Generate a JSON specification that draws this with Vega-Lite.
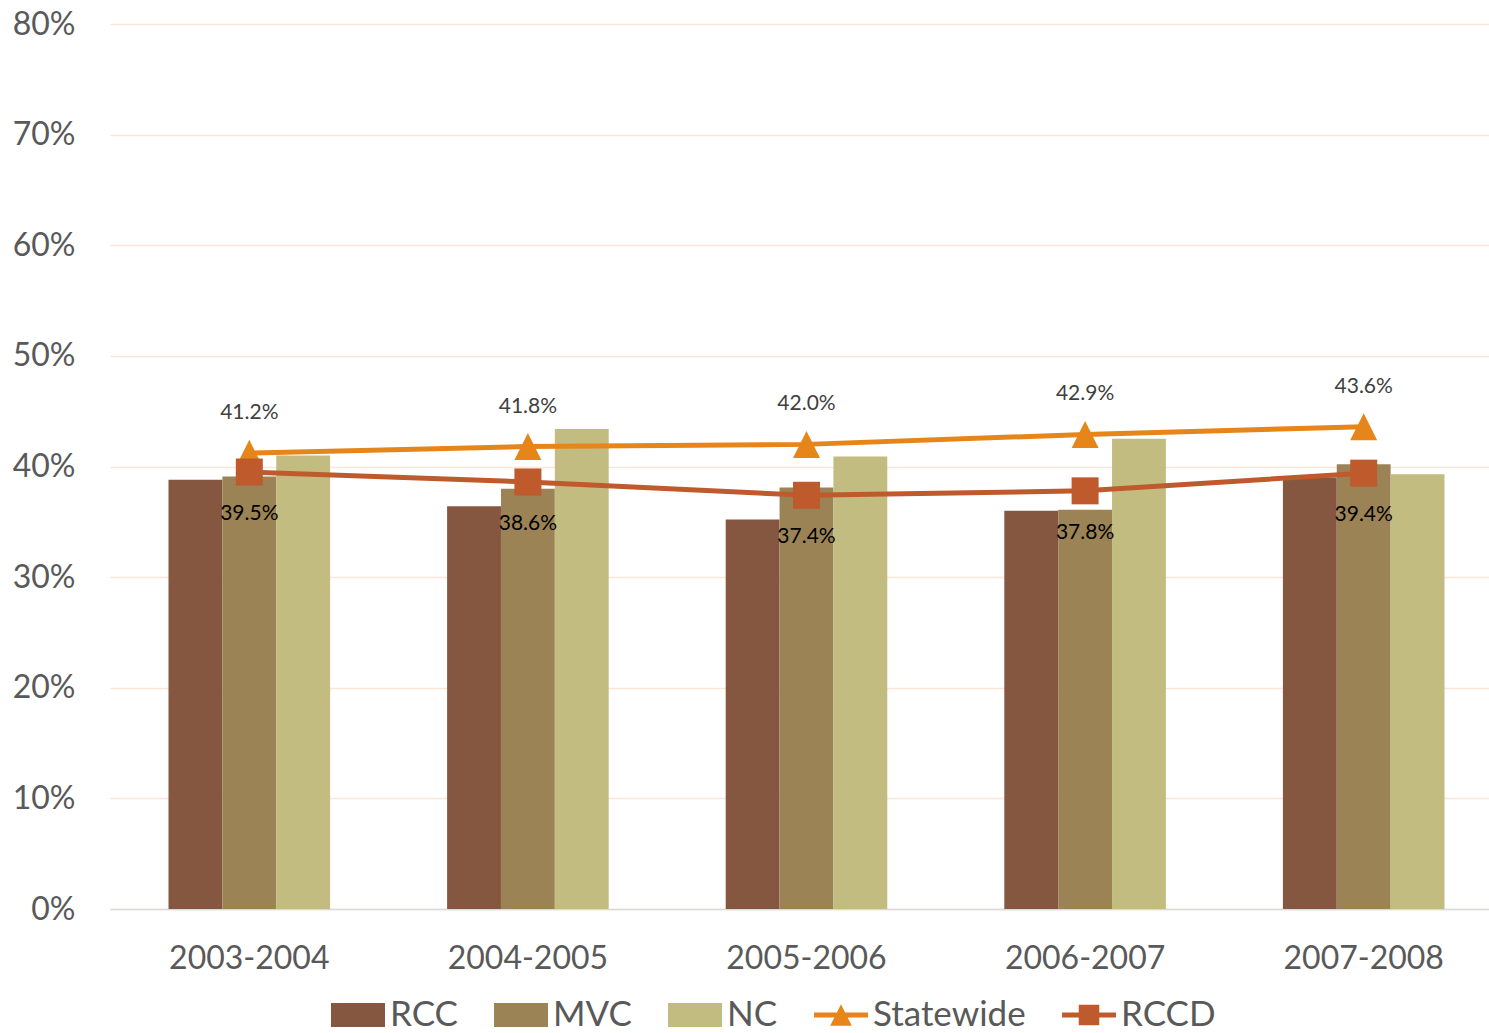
{
  "$schema": "https://vega.github.io/schema/vega-lite/v6.json",
  "width": 1379,
  "height": 885,
  "autosize": {"type": "none"},
  "padding": {"left": 110, "top": 24, "right": 0, "bottom": 124},
  "background": "white",
  "config": {
    "view": {"stroke": null},
    "font": "Lato",
    "axis": {"labelFont": "Lato", "labelColor": "#595959"}
  },
  "data": {
    "values": [
      {"year": "2003-2004", "series": "RCC", "value": 0.388},
      {"year": "2003-2004", "series": "MVC", "value": 0.391},
      {"year": "2003-2004", "series": "NC", "value": 0.410},
      {"year": "2003-2004", "series": "Statewide", "value": 0.412},
      {"year": "2003-2004", "series": "RCCD", "value": 0.395},
      {"year": "2004-2005", "series": "RCC", "value": 0.364},
      {"year": "2004-2005", "series": "MVC", "value": 0.380},
      {"year": "2004-2005", "series": "NC", "value": 0.434},
      {"year": "2004-2005", "series": "Statewide", "value": 0.418},
      {"year": "2004-2005", "series": "RCCD", "value": 0.386},
      {"year": "2005-2006", "series": "RCC", "value": 0.352},
      {"year": "2005-2006", "series": "MVC", "value": 0.381},
      {"year": "2005-2006", "series": "NC", "value": 0.409},
      {"year": "2005-2006", "series": "Statewide", "value": 0.420},
      {"year": "2005-2006", "series": "RCCD", "value": 0.374},
      {"year": "2006-2007", "series": "RCC", "value": 0.360},
      {"year": "2006-2007", "series": "MVC", "value": 0.361},
      {"year": "2006-2007", "series": "NC", "value": 0.425},
      {"year": "2006-2007", "series": "Statewide", "value": 0.429},
      {"year": "2006-2007", "series": "RCCD", "value": 0.378},
      {"year": "2007-2008", "series": "RCC", "value": 0.390},
      {"year": "2007-2008", "series": "MVC", "value": 0.402},
      {"year": "2007-2008", "series": "NC", "value": 0.393},
      {"year": "2007-2008", "series": "Statewide", "value": 0.436},
      {"year": "2007-2008", "series": "RCCD", "value": 0.394}
    ]
  },
  "encoding": {
    "x": {
      "field": "year", "type": "nominal",
      "scale": {"range": [0, 1393], "paddingInner": 0.42, "paddingOuter": 0.21},
      "axis": {
        "title": null, "labelAngle": 0, "labelFontSize": 32, "labelPadding": 34,
        "ticks": false, "tickSize": 0, "domainColor": "#D9D9D9", "domainWidth": 1.5, "grid": false
      }
    },
    "y": {
      "field": "value", "type": "quantitative",
      "scale": {"domain": [0, 0.8], "nice": false},
      "axis": {
        "title": null, "format": ".0%", "values": [0, 0.1, 0.2, 0.3, 0.4, 0.5, 0.6, 0.7, 0.8],
        "labelFontSize": 32, "labelPadding": 35, "ticks": false, "tickSize": 0, "domain": false,
        "gridColor": "#FCE6D6", "gridWidth": 1.5
      }
    }
  },
  "layer": [
    {
      "transform": [{"filter": {"field": "series", "oneOf": ["RCC", "MVC", "NC"]}}],
      "mark": {"type": "bar"},
      "encoding": {
        "xOffset": {"field": "series", "type": "nominal", "scale": {"domain": ["RCC", "MVC", "NC"], "paddingInner": 0, "paddingOuter": 0}},
        "color": {
          "field": "series", "type": "nominal",
          "scale": {
            "domain": ["RCC", "MVC", "NC", "Statewide", "RCCD"],
            "range": ["#855640", "#9C8356", "#C3BC80", "#E6861A", "#BE5A2C"]
          },
          "legend": {
            "title": null, "orient": "none", "direction": "horizontal",
            "legendX": 221, "legendY": 964,
            "labelFontSize": 35, "labelFont": "Lato", "labelColor": "#595959", "labelLimit": 400,
            "labelOffset": 5, "columnPadding": 36, "symbolSize": 2916,
            "symbolStrokeWidth": 0, "symbolOpacity": 1
          }
        }
      }
    },
    {
      "transform": [{"filter": {"field": "series", "oneOf": ["Statewide", "RCCD"]}}],
      "mark": {"type": "line", "strokeWidth": 5},
      "encoding": {
        "color": {"field": "series", "type": "nominal", "legend": null}
      }
    },
    {
      "transform": [{"filter": {"field": "series", "equal": "Statewide"}}],
      "mark": {"type": "point", "filled": true, "opacity": 1, "size": 729, "shape": "M0,-1L1,1H-1Z"},
      "encoding": {
        "color": {"field": "series", "type": "nominal", "legend": null}
      }
    },
    {
      "transform": [{"filter": {"field": "series", "equal": "RCCD"}}],
      "mark": {"type": "point", "filled": true, "opacity": 1, "size": 729, "shape": "square"},
      "encoding": {
        "color": {"field": "series", "type": "nominal", "legend": null}
      }
    },
    {
      "transform": [{"filter": "false"}],
      "mark": {"type": "point", "filled": true, "opacity": 1, "size": 2916},
      "encoding": {
        "color": {"field": "series", "type": "nominal", "legend": null},
        "shape": {
          "field": "series", "type": "nominal",
          "scale": {
            "domain": ["RCC", "MVC", "NC", "Statewide", "RCCD"],
            "range": [
              "M-1,-0.44H1V0.44H-1Z",
              "M-1,-0.44H1V0.44H-1Z",
              "M-1,-0.44H1V0.44H-1Z",
              "M-1,-0.09H1V0.09H-1Z M0,-0.4L0.4,0.4H-0.4Z",
              "M-1,-0.09H1V0.09H-1Z M-0.38,-0.38H0.38V0.38H-0.38Z"
            ]
          },
          "legend": {
            "title": null, "orient": "none", "direction": "horizontal",
            "legendX": 221, "legendY": 964,
            "labelFontSize": 35, "labelFont": "Lato", "labelColor": "#595959", "labelLimit": 400,
            "labelOffset": 5, "columnPadding": 36, "symbolSize": 2916,
            "symbolStrokeWidth": 0, "symbolOpacity": 1
          }
        }
      }
    },
    {
      "transform": [{"filter": {"field": "series", "equal": "Statewide"}}],
      "mark": {"type": "text", "dy": -40, "fontSize": 21, "color": "#404040", "font": "Lato"},
      "encoding": {"text": {"field": "value", "type": "quantitative", "format": ".1%"}}
    },
    {
      "transform": [{"filter": {"field": "series", "equal": "RCCD"}}],
      "mark": {"type": "text", "dy": 42, "fontSize": 21, "color": "#000000", "font": "Lato"},
      "encoding": {"text": {"field": "value", "type": "quantitative", "format": ".1%"}}
    }
  ]
}
